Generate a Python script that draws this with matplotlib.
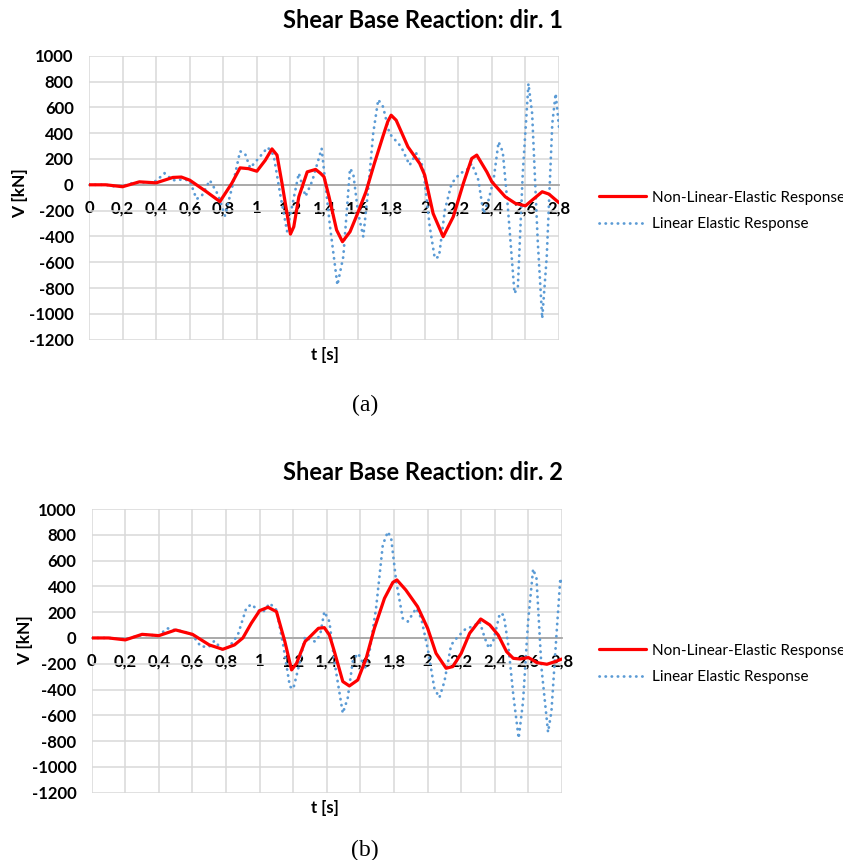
import matplotlib
matplotlib.use("Agg")
import matplotlib.pyplot as plt
import numpy as np

plt.rcParams['font.family'] = ['Lato', 'DejaVu Sans']
plt.rcParams['axes.unicode_minus'] = False

# dir. 1 - non-linear elastic response
t_nl_1 = [0, 0.1, 0.2, 0.3, 0.4, 0.5, 0.55, 0.6, 0.7, 0.78, 0.85, 0.9, 0.95, 1.0,
          1.05, 1.09, 1.12, 1.15, 1.2, 1.22, 1.25, 1.3, 1.35, 1.38, 1.4, 1.43,
          1.475, 1.51, 1.555, 1.6, 1.65, 1.7, 1.75, 1.78, 1.8, 1.83, 1.9, 1.97, 2.0,
          2.05, 2.11, 2.17, 2.23, 2.28, 2.31, 2.37, 2.4, 2.48, 2.54, 2.6, 2.64,
          2.7, 2.74, 2.8]
v_nl_1 = [0, 0, -15, 23, 15, 57, 60, 36, -54, -130, 10, 131, 125, 105,
          190, 278, 230, 10, -382, -325, -93, 100, 119, 88, 62, -93,
          -350, -441, -364, -222, -54, 165, 371, 490, 539, 500, 294, 165, 75,
          -222, -402, -248, 10, 204, 230, 100, 23, -93, -144, -163, -119,
          -54, -72, -139]

# dir. 1 - linear elastic response
t_le_1 = [0, 0.1, 0.15, 0.2, 0.25, 0.3, 0.35, 0.4, 0.45, 0.5, 0.55, 0.6, 0.64,
          0.67, 0.72, 0.77, 0.81, 0.86, 0.9, 0.93, 0.96, 1.0, 1.065, 1.1, 1.14,
          1.18, 1.22, 1.25, 1.29, 1.33, 1.386, 1.436, 1.48, 1.515, 1.555, 1.574,
          1.604, 1.634, 1.663, 1.693, 1.723, 1.752, 1.79, 1.86, 1.91, 1.95,
          1.99, 2.03, 2.06, 2.085, 2.12, 2.16, 2.21, 2.25, 2.28, 2.32, 2.35,
          2.38, 2.41, 2.44, 2.465, 2.495, 2.535, 2.555, 2.584, 2.618, 2.64,
          2.673, 2.70, 2.727, 2.76, 2.78, 2.80]
v_le_1 = [0, 0, -12, -10, 10, 22, 15, 30, 90, 35, 40, 35, -110,
          -90, 35, -80, -240, 20, 260, 240, 130, 190, 290, 230, -80,
          -360, -100, 90, -90, 30, 281, -325, -777, -557, 126, 88,
          -222, -402, -41, 397, 660, 604, 397, 294, 152, 243,
          139, -325, -570, -557, -196, 10, 88, 113, 165, 36, -222,
          -119, 36, 333, 255, -170, -841, -789, 88, 784, 552,
          -428, -1035, -557, 475, 707, 449]

# dir. 2 - non-linear elastic response
t_nl_2 = [0, 0.1, 0.2, 0.3, 0.4, 0.5, 0.6, 0.7, 0.78, 0.85, 0.9, 0.95, 1.0, 1.05,
          1.1, 1.15, 1.19, 1.22, 1.27, 1.3, 1.35, 1.385, 1.415, 1.445, 1.495,
          1.534, 1.584, 1.634, 1.683, 1.743, 1.793, 1.817, 1.87, 1.94, 2.0,
          2.05, 2.11, 2.15, 2.2, 2.25, 2.316, 2.37, 2.42, 2.47, 2.51, 2.55,
          2.6, 2.65, 2.71, 2.76, 2.8]
v_nl_2 = [0, 0, -15, 28, 18, 62, 28, -54, -88, -54, 0, 114, 212, 238,
          204, -28, -248, -196, -28, 10, 75, 80, 23, -106, -338,
          -372, -326, -158, 75, 307, 431, 450, 372, 243, 75,
          -119, -235, -222, -119, 36, 147, 101, 23, -106, -158, -163,
          -152, -191, -204, -183, -163]

# dir. 2 - linear elastic response
t_le_2 = [0, 0.1, 0.2, 0.3, 0.4, 0.45, 0.5, 0.55, 0.6, 0.65, 0.7, 0.73, 0.78,
          0.82, 0.87, 0.92, 0.95, 1.0, 1.02, 1.06, 1.1, 1.14, 1.18, 1.2, 1.24,
          1.27, 1.3, 1.33, 1.36, 1.385, 1.415, 1.445, 1.495, 1.524, 1.554,
          1.584, 1.604, 1.624, 1.654, 1.693, 1.733, 1.763, 1.783, 1.813, 1.852,
          1.882, 1.932, 1.962, 2.0, 2.04, 2.07, 2.1, 2.14, 2.18, 2.23, 2.27,
          2.31, 2.34, 2.365, 2.39, 2.43, 2.453, 2.48, 2.51, 2.542, 2.568,
          2.598, 2.628, 2.648, 2.678, 2.717, 2.737, 2.767, 2.79, 2.8]
v_le_2 = [0, 0, -10, 25, 20, 75, 60, 50, 23, -67, -67, -23, -93,
          -67, 23, 230, 261, 204, 200, 269, 217, -54, -377, -395, -183,
          10, -15, -28, 23, 204, 127, -183, -584, -468, -183,
          -119, -158, -248, -106, 230, 721, 824, 773, 437, 152,
          127, 230, 152, -80, -390, -463, -338, -54, 10, 75, 88,
          127, 0, -80, -28, 191, 178, -54, -442, -778, -494,
          127, 535, 463, -235, -731, -571, 23, 463, 411]

x_ticks = [0, 0.2, 0.4, 0.6, 0.8, 1, 1.2, 1.4, 1.6, 1.8, 2, 2.2, 2.4, 2.6, 2.8]
x_labels = ['0', '0,2', '0,4', '0,6', '0,8', '1', '1,2', '1,4', '1,6', '1,8',
            '2', '2,2', '2,4', '2,6', '2,8']
y_ticks = list(range(-1200, 1001, 200))

W, H = 843, 860
fig = plt.figure(figsize=(W / 100, H / 100), dpi=100)


def fx(px):
    return px / W


def fy(py):
    return 1 - py / H


def make_panel(left, top, right, bottom, t_nl, v_nl, t_le, v_le):
    ax = fig.add_axes([fx(left), fy(bottom), fx(right) - fx(left), fy(top) - fy(bottom)])
    ax.plot(t_le, v_le, color='#5b9bd5', lw=2.0, linestyle=(0, (0.1, 2.1)),
            dash_capstyle='round', solid_joinstyle='round',
            label='Linear Elastic Response', zorder=3)
    ax.plot(t_nl, v_nl, color='#ff0000', lw=2.3, solid_joinstyle='round',
            solid_capstyle='round', label='Non-Linear-Elastic Response', zorder=4)
    ax.set_xlim(0, 2.8)
    ax.set_ylim(-1200, 1000)
    ax.set_xticks(x_ticks)
    ax.set_xticklabels(x_labels)
    ax.set_yticks(y_ticks)
    ax.grid(True, color='#d9d9d9', lw=1.1)
    ax.set_axisbelow(True)
    for s in ['top', 'right', 'left']:
        ax.spines[s].set_visible(False)
    ax.spines['bottom'].set_position(('data', 0))
    ax.spines['bottom'].set_color('#a6a6a6')
    ax.spines['bottom'].set_linewidth(1.3)
    ax.tick_params(axis='x', length=0, pad=11, labelsize=12)
    ax.tick_params(axis='y', length=0, pad=11, labelsize=12)
    for lab in ax.get_xticklabels() + ax.get_yticklabels():
        lab.set_fontweight('bold')
    return ax


ax1 = make_panel(89, 55.7, 559, 339.7, t_nl_1, v_nl_1, t_le_1, v_le_1)
ax2 = make_panel(91.7, 509, 562, 792.7, t_nl_2, v_nl_2, t_le_2, v_le_2)

for ax, ty, ly, ylx, yly, xly, cy, title, cap in [
        (ax1, 20, 211, 20, 193, 355, 405, 'Shear Base Reaction: dir. 1', '(a)'),
        (ax2, 472, 664, 25, 640, 808, 850, 'Shear Base Reaction: dir. 2', '(b)')]:
    fig.text(fx(423), fy(ty), title, ha='center', va='center',
             fontsize=17, fontweight='bold')
    fig.text(fx(ylx), fy(yly), 'V [kN]', ha='center', va='center',
             rotation=90, fontsize=12.5, fontweight='bold')
    fig.text(fx(325), fy(xly), 't [s]', ha='center', va='center',
             fontsize=12, fontweight='bold')
    fig.text(fx(365), fy(cy), cap, ha='center', va='center',
             fontsize=17, family='Liberation Serif')
    h, l = ax.get_legend_handles_labels()
    ax.legend(h[::-1], l[::-1], loc='center left', bbox_to_anchor=(fx(599), fy(ly)),
              bbox_transform=fig.transFigure, frameon=False, fontsize=11,
              borderpad=0, borderaxespad=0, handlelength=3.1,
              handletextpad=0.35, labelspacing=0.85)

fig.savefig('out.png', dpi=100)
